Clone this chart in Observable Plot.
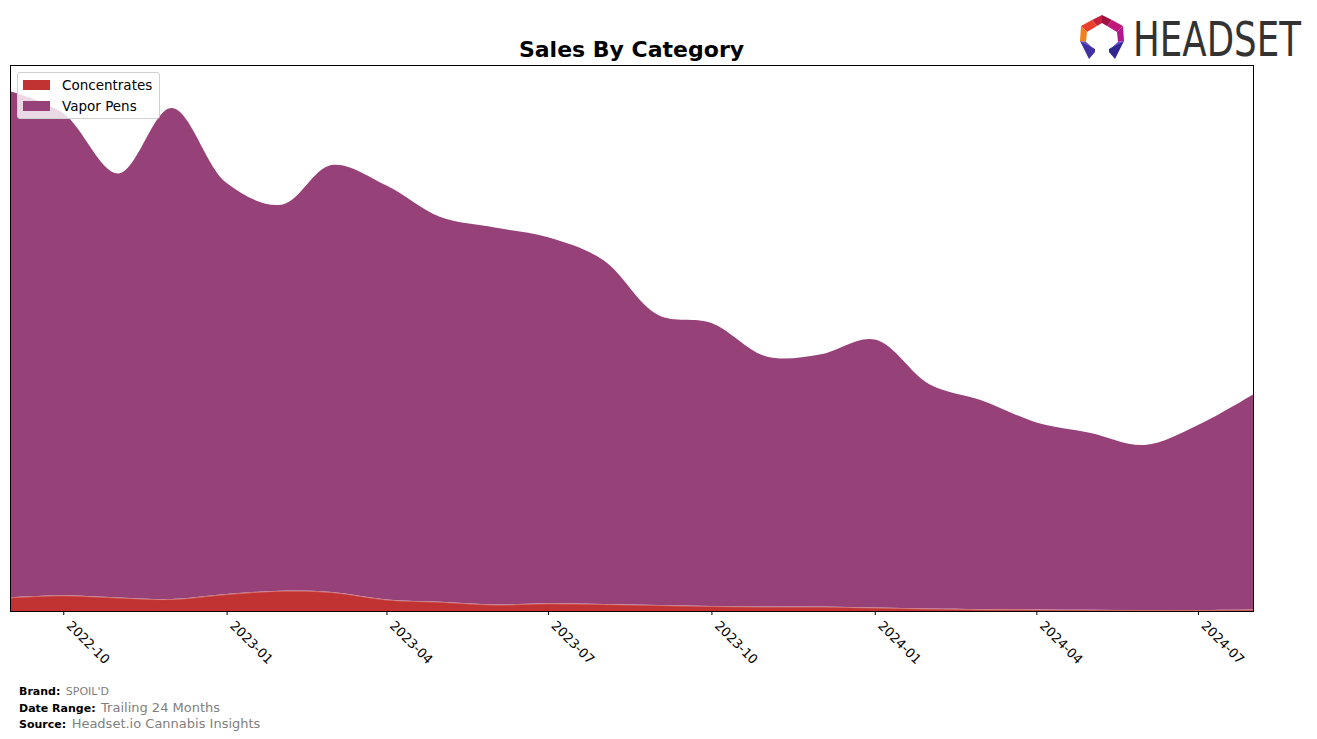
<!DOCTYPE html>
<html>
<head>
<meta charset="utf-8">
<script src="https://cdn.jsdelivr.net/npm/d3@7"></script>
<script src="https://cdn.jsdelivr.net/npm/@observablehq/plot@0.6"></script>
<style>
  html, body { margin: 0; padding: 0; background: #fff; }
  body { width: 1317px; height: 739px; position: relative; overflow: hidden; font-family: "DejaVu Sans", sans-serif; }
  #chart { position: absolute; left: 0; top: 0; }
  #title { position: absolute; left: 10px; width: 1243px; top: 37px; text-align: center; font-weight: bold; font-size: 22px; line-height: 26px; color: #000; }
  #legend { position: absolute; left: 17px; top: 72px; width: 141px; height: 45px; background: rgba(255,255,255,0.8); border: 1px solid #d0d0d0; border-radius: 3px; font-size: 13.5px; }
  .li { position: absolute; left: 5px; height: 16px; display: flex; align-items: center; }
  .sw { width: 27px; height: 10px; margin-right: 12px; }
  #footer { position: absolute; left: 19px; top: 684px; font-size: 11px; line-height: 15.5px; }
  #footer b { color: #000; margin-right: 2px; }
  #footer span { color: #808080; }
  #logo { position: absolute; left: 1078px; top: 2px; }
</style>
</head>
<body>
<div id="chart"></div>
<div id="title">Sales By Category</div>
<div id="legend"></div>
<div id="footer">
  <div><b>Brand:</b> <span style="font-size:11px">SPOIL'D</span></div>
  <div><b>Date Range:</b> <span style="font-size:13px">Trailing 24 Months</span></div>
  <div><b>Source:</b> <span style="font-size:13px">Headset.io Cannabis Insights</span></div>
</div>
<svg id="logo" width="239" height="72" viewBox="0 0 239 72">
  <g transform="translate(0,10)">
  <polygon points="24,3 14,8 19,14 24,11" fill="#c8203a"/>
  <polygon points="24,3 34,8 29,14 24,11" fill="#a01040"/>
  <polygon points="14,8 3,14 9,20 19,14" fill="#e8402a"/>
  <polygon points="34,8 45,14 39,20 29,14" fill="#c0187a"/>
  <polygon points="3,14 2,29 8,30 9,20" fill="#f08020"/>
  <polygon points="45,14 46,29 40,30 39,20" fill="#b01890"/>
  <polygon points="2,29 16,37 8,30" fill="#6048c8"/>
  <polygon points="2,29 17,37 17,40 11,47" fill="#4030a0"/>
  <polygon points="46,29 32,37 40,30" fill="#6048c8"/>
  <polygon points="46,29 31,37 31,40 37,47" fill="#302890"/>
  <text transform="translate(55,44) scale(1,1.42)" x="0" y="0" font-family="'DejaVu Sans Condensed','DejaVu Sans',sans-serif" font-size="34" fill="#333" textLength="168" lengthAdjust="spacingAndGlyphs">HEADSET</text>
  </g>
</svg>
<script>
// ---- data ----
const months = ["2022-09-01","2022-10-01","2022-11-01","2022-12-01","2023-01-01","2023-02-01","2023-03-01","2023-04-01","2023-05-01","2023-06-01","2023-07-01","2023-08-01","2023-09-01","2023-10-01","2023-11-01","2023-12-01","2024-01-01","2024-02-01","2024-03-01","2024-04-01","2024-05-01","2024-06-01","2024-07-01","2024-08-01"];
const concentrates = [13.7, 15.7, 13.5, 12, 17, 20.3, 19, 11.5, 9.3, 6.5, 7.7, 7, 6, 5, 4.5, 4.5, 3.5, 2.5, 1.8, 1.6, 1.3, 1, 1, 1.5];
const vaporPens = [506, 482, 424, 491, 411, 386, 427, 414, 385, 377, 366, 344, 290, 283, 250, 252, 268, 224, 209, 187, 177, 165, 185, 215];
const categories = ["Concentrates", "Vapor Pens"];
const colors = ["#c13332", "#964178"];
const tickDates = ["2022-10-01","2023-01-01","2023-04-01","2023-07-01","2023-10-01","2024-01-01","2024-04-01","2024-07-01"];

const parse = d3.utcParse("%Y-%m-%d");
const rows = [];
months.forEach((m, i) => {
  rows.push({date: parse(m), category: categories[0], value: concentrates[i]});
  rows.push({date: parse(m), category: categories[1], value: vaporPens[i]});
});

const chart = Plot.plot({
  width: 1317,
  height: 739,
  marginLeft: 10,
  marginRight: 64,
  marginTop: 65,
  marginBottom: 128,
  style: {fontFamily: "DejaVu Sans, sans-serif", fontSize: "13px", background: "transparent", color: "#000"},
  x: {type: "utc", domain: [parse(months[0]), parse(months[months.length - 1])]},
  y: {domain: [0, 546], axis: null},
  color: {domain: categories, range: colors},
  marks: [
    Plot.areaY(rows, Plot.stackY({order: categories}, {x: "date", y: "value", z: "category", fill: "category", curve: "catmull-rom"})),
    Plot.lineY(rows.filter(d => d.category === categories[0]), {x: "date", y: "value", stroke: "#ffffff", strokeOpacity: 0.3, strokeWidth: 1, curve: "catmull-rom"}),
    Plot.frame({stroke: "#000", strokeWidth: 1}),
    Plot.axisX({ticks: tickDates.map(parse), tickSize: 4, text: null, label: null, stroke: "#000"}),
    Plot.axisX({ticks: tickDates.map(parse), tickFormat: d3.utcFormat("%Y-%m"), tickSize: 0, tickRotate: 45, tickPadding: 3, textAnchor: "start", label: null, fontSize: 13, dx: 5, dy: 9, fill: "#000"})
  ]
});
document.getElementById("chart").appendChild(chart);

// legend
const leg = document.getElementById("legend");
categories.forEach((c, i) => {
  const row = document.createElement("div");
  row.className = "li";
  row.style.top = (4 + i * 21) + "px";
  row.innerHTML = `<div class="sw" style="background:${colors[i]}"></div><div>${c}</div>`;
  leg.appendChild(row);
});
</script>
</body>
</html>
